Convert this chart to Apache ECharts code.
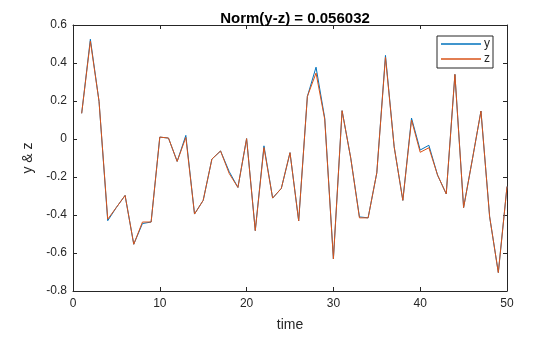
<!DOCTYPE html>
<html><head><meta charset="utf-8">
<script src="https://cdn.jsdelivr.net/npm/echarts@6/dist/echarts.min.js"></script>
<style>html,body{margin:0;padding:0;background:#fff}#c{width:560px;height:337px}</style>
</head><body><div id="c"></div>
<script>
const timeVals = [1,2,3,4,5,6,7,8,9,10,11,12,13,14,15,16,17,18,19,20,21,22,23,24,25,26,27,28,29,30,31,32,33,34,35,36,37,38,39,40,41,42,43,44,45,46,47,48,49,50];
const yVals = [0.135,0.525,0.198,-0.43,-0.36,-0.297,-0.554,-0.445,-0.437,0.01,0.005,-0.118,0.019,-0.395,-0.323,-0.106,-0.063,-0.172,-0.255,0.002,-0.482,-0.036,-0.311,-0.26,-0.072,-0.431,0.224,0.378,0.11,-0.631,0.149,-0.101,-0.41,-0.415,-0.178,0.44,-0.041,-0.323,0.11,-0.058,-0.033,-0.19,-0.289,0.34,-0.361,-0.11,0.147,-0.409,-0.703,-0.25];
const zVals = [0.135,0.515,0.198,-0.422,-0.36,-0.297,-0.554,-0.437,-0.437,0.01,0.005,-0.118,0.008,-0.395,-0.323,-0.106,-0.063,-0.182,-0.255,0.002,-0.482,-0.045,-0.311,-0.26,-0.072,-0.431,0.224,0.347,0.104,-0.631,0.149,-0.101,-0.415,-0.415,-0.178,0.43,-0.041,-0.323,0.1,-0.07,-0.046,-0.19,-0.289,0.34,-0.361,-0.11,0.147,-0.409,-0.703,-0.25];
const xTicks = [0,10,20,30,40,50];
const yTicks = [-0.8,-0.6,-0.4,-0.2,0,0.2,0.4,0.6];

const FONT = 'Liberation Sans';
const axisCol = '#262626';
const chart = echarts.init(document.getElementById('c'));
const axLine = {show:true, onZero:false, lineStyle:{color:axisCol, width:1}};
const axTick = {show:true, inside:true, length:4, lineStyle:{color:axisCol}};
chart.setOption({
  animation:false,
  backgroundColor:'#fff',
  title:{text:'Norm(y-z) = 0.056032', left:290, top:6, textAlign:'center',
    textStyle:{fontFamily:FONT, fontSize:15, fontWeight:'bold', color:'#000'}},
  legend:{data:['y','z'], orient:'vertical', left:437, top:36,
    itemWidth:40, itemHeight:1.5, icon:'rect', itemGap:1,
    borderColor:axisCol, borderWidth:1, borderRadius:0, padding:[1,3,2,4],
    textStyle:{fontFamily:FONT, fontSize:12, lineHeight:14, color:axisCol, padding:[0,0,0,-2]}},
  grid:{left:73, right:53, top:25, bottom:39, containLabel:false},
  xAxis:[{type:'value', min:0, max:50, interval:10, name:'time', nameLocation:'middle', nameGap:27,
    nameTextStyle:{fontFamily:FONT, fontSize:14, color:axisCol},
    axisLine:axLine, axisTick:axTick,
    axisLabel:{fontFamily:FONT, fontSize:12, color:axisCol, margin:7, formatter:v=>xTicks.includes(v)?String(v):''},
    splitLine:{show:false}},
    {type:'value', position:'top', min:0, max:50, interval:10,
    axisLine:axLine, axisTick:axTick, axisLabel:{show:false}, splitLine:{show:false}}],
  yAxis:[{type:'value', min:-0.8, max:0.6, interval:0.2, name:'y & z', nameLocation:'middle', nameGap:34,
    nameTextStyle:{fontFamily:FONT, fontSize:14, color:axisCol},
    axisLine:axLine, axisTick:axTick,
    axisLabel:{fontFamily:FONT, fontSize:12, color:axisCol, margin:6,
      formatter:v=>{const t=yTicks.find(k=>Math.abs(k-v)<1e-9); return t===undefined?'':(t===0?'0':t.toFixed(1));}},
    splitLine:{show:false}},
    {type:'value', position:'right', min:-0.8, max:0.6, interval:0.2,
    axisLine:axLine, axisTick:axTick, axisLabel:{show:false}, splitLine:{show:false}}],
  series:[
    {name:'y', type:'line', data:timeVals.map((t,i)=>[t,yVals[i]]), showSymbol:false, symbol:'none',
      lineStyle:{color:'#0072BD', width:1}, itemStyle:{color:'#0072BD'}},
    {name:'z', type:'line', data:timeVals.map((t,i)=>[t,zVals[i]]), showSymbol:false, symbol:'none',
      lineStyle:{color:'#D95319', width:1}, itemStyle:{color:'#D95319'}}
  ]
});
</script></body></html>
